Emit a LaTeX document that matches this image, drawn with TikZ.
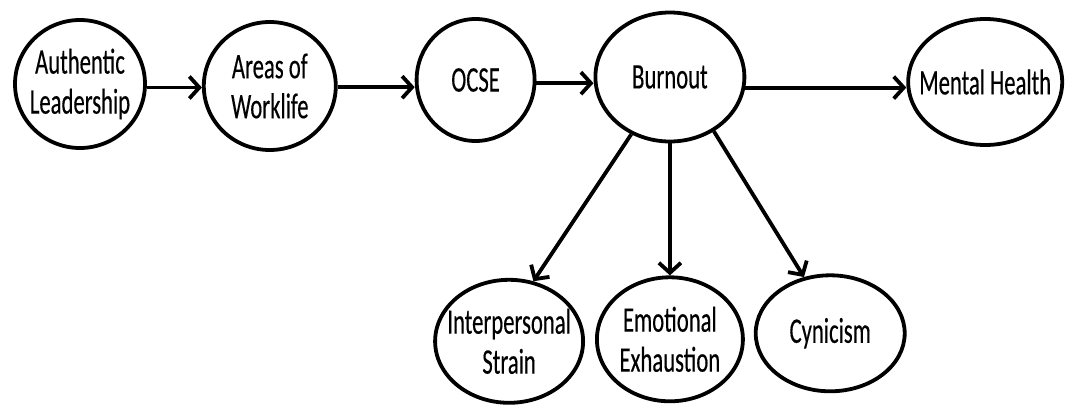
\documentclass[tikz,border=0pt]{standalone}
\usepackage{fontspec}
\setmainfont[FakeStretch=0.63, FakeBold=0.3]{Carlito}
\usepackage{tikz}
\usetikzlibrary{arrows.meta, positioning, shapes.geometric}
\tikzset{
  factor/.style={ellipse,draw,line width=3.8pt,inner sep=0pt},
  link/.style={->, line width=3.8pt},
  every label/.style={align=center,font=\fontsize{36}{40}\selectfont}
}

\begin{document}
\begin{tikzpicture}[x=1pt, y=-1pt, >={Straight Barb[length=10pt,width=22pt]}]
  \useasboundingbox (0,0) rectangle (1065,405);
  % top row
  \node[factor, minimum width=130pt, minimum height=128pt, label={center:{Authentic\\Leadership}}] (lead) at (80,84) {};
  \node[factor, minimum width=132pt, minimum height=128pt, right=55pt of lead, yshift=-2pt, label={center:{Areas of\\Worklife}}] (life) {};
  \node[factor, minimum width=118pt, minimum height=122pt, right=77pt of life, yshift=6pt, label={center:{OCSE}}] (ocse) {};
  \node[factor, minimum width=149pt, minimum height=129pt, right=57pt of ocse, yshift=3pt, label={center:{Burnout}}] (burn) {};
  \node[factor, minimum width=154pt, minimum height=126pt, right=160pt of burn, yshift=-5pt, label={center:{Mental Health}}] (health) {};
  % bottom row
  \node[factor, minimum width=146pt, minimum height=124pt, below=132pt of burn, label={center:{Emotional\\Exhaustion}}] (exhaust) {};
  \node[factor, minimum width=148pt, minimum height=123pt, left=10pt of exhaust, yshift=-2pt, label={center:{Interpersonal\\Strain}}] (strain) {};
  \node[factor, minimum width=149pt, minimum height=116pt, right=9pt of exhaust, yshift=6pt, label={center:{Cynicism}}] (cynic) {};
  \draw[link] (lead.-3) -- (lead.-3 -| life.west);
  \draw[link] (life.-1) -- (life.-1 -| ocse.west);
  \draw[link] (ocse.-3) -- (ocse.-3 -| burn.west);
  \draw[link] (burn.-8) -- (burn.-8 -| health.west);
  \draw[link] (burn.236) -- (strain.68);
  \draw[link] (burn) -- (exhaust);
  \draw[link] (burn.309) -- (cynic.115);
\end{tikzpicture}
\end{document}
